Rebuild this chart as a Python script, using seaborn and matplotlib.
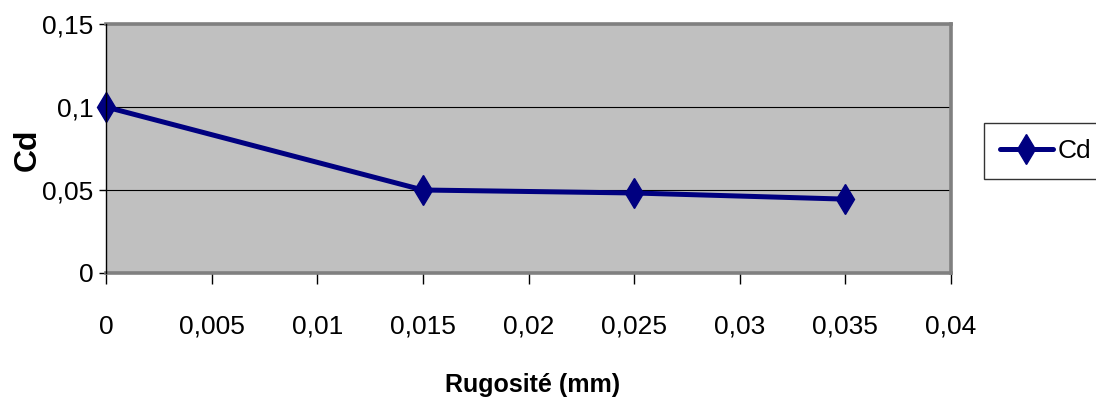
import matplotlib
matplotlib.use("Agg")
import matplotlib.pyplot as plt
import seaborn as sns
import pandas as pd

# Drag coefficient versus wall roughness
rugosite = [0.0, 0.015, 0.025, 0.035]
cd_values = [0.100, 0.050, 0.0482, 0.0445]

x_ticks = [0, 0.005, 0.01, 0.015, 0.02, 0.025, 0.03, 0.035, 0.04]
x_tick_labels = ["0", "0,005", "0,01", "0,015", "0,02", "0,025", "0,03", "0,035", "0,04"]
y_ticks = [0, 0.05, 0.1, 0.15]
y_tick_labels = ["0", "0,05", "0,1", "0,15"]

sns.set_theme(style="white")
plt.rcParams["font.family"] = ["Liberation Sans", "DejaVu Sans"]
plt.rcParams["text.color"] = "black"
plt.rcParams["axes.labelcolor"] = "black"
plt.rcParams["xtick.color"] = "black"
plt.rcParams["ytick.color"] = "black"

df = pd.DataFrame({"Rugosité (mm)": rugosite, "Cd": cd_values})

fig = plt.figure(figsize=(10.96, 4.12), dpi=100)
ax = fig.add_axes([106 / 1096, 1 - 273 / 412, (951 - 106) / 1096, (273 - 24) / 412])
ax.set_facecolor("#C0C0C0")

sns.lineplot(data=df, x="Rugosité (mm)", y="Cd", ax=ax, color="#000080",
             linewidth=3.6, marker="d", markersize=15, markeredgecolor="#000080",
             markeredgewidth=1, label="Cd", zorder=5, clip_on=False)

ax.set_xlim(0, 0.04)
ax.set_ylim(0, 0.15)
ax.set_xticks(x_ticks)
ax.set_xticklabels(x_tick_labels, fontsize=19)
ax.set_yticks(y_ticks)
ax.set_yticklabels(y_tick_labels, fontsize=19)

ax.yaxis.grid(True, color="black", linewidth=0.8)
ax.xaxis.grid(False)
ax.set_axisbelow(True)

ax.tick_params(axis="x", direction="out", length=8, width=1, pad=22, bottom=True)
ax.tick_params(axis="y", direction="out", length=5, width=1, pad=4, left=True)

for side in ("top", "right", "bottom"):
    ax.spines[side].set_color("#808080")
    ax.spines[side].set_linewidth(2.6)
ax.spines["left"].set_color("black")
ax.spines["left"].set_linewidth(1.0)
ax.spines["left"].set_zorder(6)

ax.set_xlabel("Rugosité (mm)", fontsize=18, fontweight="bold")
ax.xaxis.set_label_coords((533 - 106) / 845, -(385 - 273) / 249)
ax.xaxis.label.set_va("center")
ax.set_ylabel("Cd", fontsize=23, fontweight="bold")
ax.yaxis.set_label_coords((28 - 106) / 845, (273 - 150) / 249)
ax.yaxis.label.set_va("center")

leg = ax.legend(loc="center left", bbox_to_anchor=(984 / 1096, 1 - 151 / 412),
                bbox_transform=fig.transFigure, frameon=True, fancybox=False,
                shadow=False, fontsize=19, handlelength=2.0, borderpad=0.6,
                borderaxespad=0, handletextpad=0.2)
leg.get_frame().set_edgecolor("black")
leg.get_frame().set_linewidth(1.0)
leg.get_frame().set_facecolor("white")

fig.savefig("out.png", dpi=100)
